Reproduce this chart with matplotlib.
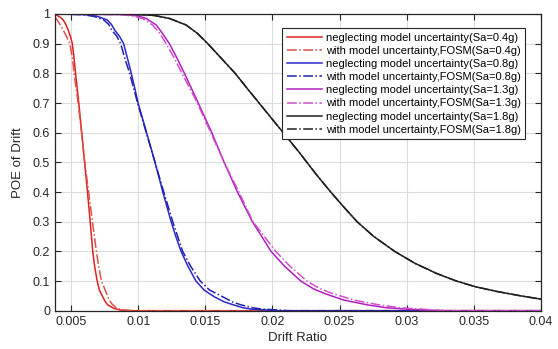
import matplotlib
matplotlib.use('Agg')
import matplotlib.pyplot as plt
from matplotlib.ticker import FormatStrFormatter

# POE curves per intensity level; solid = neglecting model uncertainty,
# dash-dot = with model uncertainty (FOSM)
red_x = [0.0038, 0.00392, 0.00416, 0.00441, 0.0046, 0.00478, 0.00494, 0.00509, 0.00522,
         0.00533, 0.00557, 0.00579, 0.0060, 0.00622, 0.00642, 0.00661, 0.00675, 0.00694,
         0.0071, 0.00732, 0.00755, 0.00772, 0.00817, 0.00869, 0.0094, 0.04]
red_y = [1.0, 0.996, 0.99, 0.98, 0.965, 0.946, 0.925, 0.9, 0.85, 0.8, 0.7, 0.6, 0.5, 0.4,
         0.3, 0.2, 0.15, 0.1, 0.07, 0.05, 0.03, 0.02, 0.008, 0.002, 0.0, 0.0]
red_fosm_x = [0.0038, 0.0041, 0.00441, 0.0047, 0.0049, 0.0051, 0.00522, 0.00552, 0.00578,
              0.00602, 0.0063, 0.00659, 0.00688, 0.00705, 0.00726, 0.00763, 0.0078,
              0.0080, 0.00839, 0.0088, 0.0097, 0.04]
red_fosm_y = [0.99, 0.97, 0.946, 0.92, 0.9, 0.85, 0.8, 0.7, 0.6, 0.5, 0.4, 0.3, 0.2, 0.15,
              0.1, 0.059, 0.04, 0.025, 0.008, 0.003, 0.0, 0.0]

blue_x = [0.0038, 0.0060, 0.0069, 0.00769, 0.0080, 0.00824, 0.0086, 0.00891, 0.0092,
          0.00948, 0.00974, 0.00999, 0.01062, 0.01125, 0.01183, 0.01245, 0.0128, 0.01319,
          0.0137, 0.0143, 0.0149, 0.01566, 0.0164, 0.01714, 0.0178, 0.01848, 0.0205, 0.04]
blue_y = [1.0, 0.998, 0.993, 0.98, 0.965, 0.946, 0.925, 0.9, 0.85, 0.8, 0.75, 0.7, 0.6,
          0.5, 0.4, 0.3, 0.25, 0.2, 0.15, 0.1, 0.07, 0.047, 0.03, 0.019, 0.01, 0.005,
          0.0, 0.0]
blue_fosm_x = [0.0038, 0.00579, 0.0067, 0.00743, 0.0078, 0.00802, 0.0084, 0.00869, 0.0090,
               0.00936, 0.00995, 0.0106, 0.01125, 0.0119, 0.01257, 0.01331, 0.0139,
               0.01462, 0.0153, 0.01616, 0.0170, 0.01764, 0.0185, 0.01915, 0.0212, 0.04]
blue_fosm_y = [1.0, 0.998, 0.992, 0.98, 0.965, 0.946, 0.925, 0.9, 0.85, 0.8, 0.7, 0.6,
               0.5, 0.4, 0.3, 0.2, 0.15, 0.1, 0.07, 0.05, 0.03, 0.02, 0.01, 0.006,
               0.0, 0.0]

mag_x = [0.0038, 0.00898, 0.0099, 0.01059, 0.01134, 0.0118, 0.01232, 0.0129, 0.01344,
         0.01447, 0.01548, 0.0164, 0.01739, 0.0185, 0.0192, 0.01989, 0.0209, 0.02211,
         0.0230, 0.02382, 0.0253, 0.02716, 0.0285, 0.03013, 0.03235, 0.04]
mag_y = [1.0, 0.998, 0.994, 0.985, 0.963, 0.935, 0.9, 0.85, 0.8, 0.7, 0.6, 0.5, 0.4, 0.3,
         0.25, 0.2, 0.15, 0.1, 0.075, 0.059, 0.036, 0.019, 0.01, 0.005, 0.0, 0.0]
mag_fosm_x = [0.0038, 0.00861, 0.0095, 0.01032, 0.01106, 0.0116, 0.01208, 0.0127, 0.01326,
              0.0144, 0.0154, 0.0164, 0.0175, 0.01855, 0.0194, 0.02024, 0.0213, 0.02256,
              0.0235, 0.02441, 0.02605, 0.0279, 0.0295, 0.03087, 0.03309, 0.04]
mag_fosm_y = [1.0, 0.998, 0.994, 0.985, 0.963, 0.935, 0.9, 0.85, 0.8, 0.7, 0.6, 0.5, 0.4,
              0.3, 0.25, 0.2, 0.15, 0.1, 0.075, 0.059, 0.036, 0.02, 0.01, 0.006, 0.0, 0.0]

blk_x = [0.0038, 0.00973, 0.0112, 0.01232, 0.01356, 0.0144, 0.01518, 0.0162, 0.01722,
         0.0181, 0.019, 0.0199, 0.0208, 0.02195, 0.0233, 0.02434, 0.0253, 0.0263,
         0.02755, 0.0291, 0.0306, 0.0322, 0.0337, 0.0351, 0.0367, 0.0385, 0.04]
blk_y = [1.0, 0.999, 0.995, 0.985, 0.963, 0.935, 0.9, 0.85, 0.8, 0.75, 0.7, 0.65, 0.6,
         0.536, 0.457, 0.4, 0.35, 0.3, 0.25, 0.2, 0.16, 0.126, 0.1, 0.081, 0.065, 0.05,
         0.039]
blk_fosm_x = blk_x
blk_fosm_y = blk_y

sa_levels = ['0.4g', '0.8g', '1.3g', '1.8g']

plt.rcParams['font.family'] = ['Liberation Sans', 'DejaVu Sans']
fig = plt.figure(figsize=(5.58, 3.49), dpi=100)
ax = fig.add_axes([0.0986, 0.1097, 0.8709, 0.8502])

series = [
    (red_x, red_y, red_fosm_x, red_fosm_y, '#e02020', '#e0504a'),
    (blue_x, blue_y, blue_fosm_x, blue_fosm_y, '#2a2ac8', '#2020b0'),
    (mag_x, mag_y, mag_fosm_x, mag_fosm_y, '#b020c0', '#d050c8'),
    (blk_x, blk_y, blk_fosm_x, blk_fosm_y, '#202020', '#202020'),
]
for (x, y, xf, yf, c, cf), sa in zip(series, sa_levels):
    ax.plot(x, y, '-', color=c, lw=1.1, solid_joinstyle='round',
            label='neglecting model uncertainty(Sa=%s)' % sa)
    ax.plot(xf, yf, '-.', color=cf, lw=1.1, dash_joinstyle='round',
            label='with model uncertainty,FOSM(Sa=%s)' % sa)

ax.set_xlim(0.0038, 0.04)
ax.set_ylim(0, 1)
ax.set_xticks([0.005, 0.01, 0.015, 0.02, 0.025, 0.03, 0.035, 0.04])
ax.set_yticks([i / 10 for i in range(11)])
ax.xaxis.set_major_formatter(FormatStrFormatter('%g'))
ax.yaxis.set_major_formatter(FormatStrFormatter('%g'))
ax.grid(True, color='#dcdcdc', lw=0.8)
ax.set_axisbelow(True)
ax.tick_params(direction='in', top=True, right=True, labelsize=9,
               colors='#262626', length=4)
for s in ax.spines.values():
    s.set_color('#262626')
    s.set_linewidth(0.9)

ax.set_xlabel('Drift Ratio', fontsize=9.5, color='#262626', labelpad=3)
ax.set_ylabel('POE of Drift', fontsize=9.5, color='#262626', labelpad=6)

leg = ax.legend(loc='upper right', bbox_to_anchor=(0.979, 0.97), fontsize=8,
                handlelength=3.2, handletextpad=0.3, labelspacing=0.28,
                borderpad=0.4, fancybox=False, framealpha=1,
                edgecolor='#262626')
leg.get_frame().set_linewidth(0.8)

fig.savefig('out.png', dpi=100)
